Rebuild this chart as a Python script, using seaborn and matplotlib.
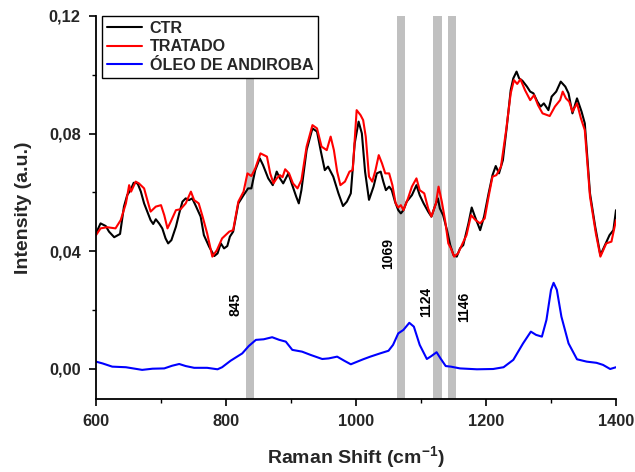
import matplotlib
matplotlib.use("Agg")
import matplotlib.pyplot as plt
from matplotlib.ticker import FuncFormatter, MultipleLocator
import numpy as np
import pandas as pd
import seaborn as sns

# ---------------- data ----------------
ctr_x = [600,607,615,620,628,637,643,648,653,658,664,669,674,679,684,688,692,697,702,707,711,716,723,728,733,738,743,748,753,761,766,774,782,787,792,797,802,806,811,819,827,834,839,845,852,857,865,872,878,883,888,896,901,908,912,916,924,933,940,946,952,957,965,973,980,986,992,998,1004,1009,1014,1020,1027,1032,1038,1042,1046,1051,1055,1060,1065,1069,1073,1078,1086,1093,1098,1104,1111,1116,1122,1126,1129,1134,1140,1145,1150,1155,1160,1165,1173,1178,1183,1191,1197,1204,1210,1215,1220,1226,1232,1238,1242,1247,1251,1256,1263,1268,1273,1279,1284,1289,1296,1301,1308,1315,1322,1327,1333,1340,1347,1352,1360,1368,1376,1383,1390,1396,1400]
ctr_y = [0.0461,0.0495,0.0486,0.0467,0.0448,0.0459,0.0552,0.0591,0.0608,0.0633,0.0631,0.0603,0.0563,0.0535,0.0506,0.0493,0.0509,0.0495,0.0478,0.0444,0.0427,0.0438,0.0484,0.0529,0.0569,0.0580,0.0574,0.0580,0.0557,0.0518,0.0455,0.0416,0.0384,0.0393,0.0427,0.0410,0.0418,0.0450,0.0467,0.0563,0.0591,0.0614,0.0614,0.0676,0.0716,0.0693,0.0648,0.0625,0.0671,0.0648,0.0631,0.0665,0.0631,0.0586,0.0563,0.0608,0.0744,0.0818,0.0807,0.0739,0.0676,0.0688,0.0654,0.0597,0.0554,0.0569,0.0597,0.0767,0.0841,0.0801,0.0670,0.0575,0.0620,0.0665,0.0671,0.0637,0.0608,0.0620,0.0608,0.0569,0.0540,0.0529,0.0540,0.0569,0.0591,0.0625,0.0591,0.0563,0.0535,0.0518,0.0557,0.0580,0.0546,0.0523,0.0472,0.0421,0.0387,0.0382,0.0410,0.0421,0.0495,0.0549,0.0518,0.0472,0.0518,0.0597,0.0659,0.0690,0.0665,0.0710,0.0824,0.0948,0.0988,0.1011,0.0988,0.0980,0.0960,0.0943,0.0937,0.0909,0.0892,0.0903,0.0880,0.0926,0.0943,0.0977,0.0960,0.0937,0.0869,0.0920,0.0875,0.0835,0.0597,0.0484,0.0387,0.0421,0.0455,0.0472,0.0540]

trat_x = [600,607,617,630,638,646,651,654,661,666,674,679,684,692,700,705,710,715,723,730,738,746,751,758,764,771,779,786,794,805,811,819,827,833,839,845,853,863,868,873,878,883,887,891,897,903,910,916,924,933,940,947,955,961,966,971,976,983,990,995,1001,1007,1011,1015,1020,1025,1030,1035,1040,1045,1051,1056,1061,1065,1069,1073,1080,1086,1093,1098,1105,1111,1116,1123,1127,1132,1137,1142,1146,1151,1157,1164,1170,1177,1184,1191,1198,1204,1210,1216,1223,1231,1238,1243,1248,1253,1260,1268,1274,1280,1287,1298,1306,1314,1318,1323,1328,1333,1340,1346,1352,1360,1369,1376,1385,1393,1400]
trat_y = [0.0455,0.0478,0.0482,0.0478,0.0506,0.0563,0.0625,0.0603,0.0637,0.0631,0.0614,0.0574,0.0535,0.0552,0.0557,0.0523,0.0478,0.0501,0.0540,0.0543,0.0563,0.0603,0.0574,0.0563,0.0518,0.0461,0.0382,0.0404,0.0444,0.0467,0.0472,0.0569,0.0603,0.0665,0.0656,0.0682,0.0733,0.0722,0.0665,0.0631,0.0648,0.0659,0.0652,0.0679,0.0665,0.0631,0.0614,0.0642,0.0756,0.0829,0.0818,0.0756,0.0744,0.0790,0.0744,0.0671,0.0625,0.0637,0.0671,0.0676,0.0880,0.0863,0.0846,0.0790,0.0654,0.0637,0.0676,0.0727,0.0699,0.0665,0.0665,0.0625,0.0563,0.0549,0.0557,0.0540,0.0580,0.0620,0.0648,0.0608,0.0597,0.0546,0.0518,0.0563,0.0620,0.0569,0.0506,0.0427,0.0410,0.0382,0.0393,0.0427,0.0455,0.0523,0.0506,0.0495,0.0512,0.0586,0.0654,0.0659,0.0688,0.0812,0.0937,0.0982,0.0969,0.0985,0.0948,0.0914,0.0931,0.0897,0.0869,0.0860,0.0892,0.0914,0.0943,0.0920,0.0909,0.0875,0.0903,0.0852,0.0812,0.0586,0.0461,0.0382,0.0427,0.0433,0.0506]

oleo_x = [600,610,625,646,671,687,705,717,728,738,751,771,787,794,807,825,835,846,858,871,882,892,902,917,930,948,958,971,982,992,1002,1011,1022,1037,1050,1057,1065,1073,1082,1089,1098,1109,1116,1124,1130,1138,1146,1160,1186,1211,1227,1242,1257,1269,1277,1286,1293,1300,1304,1309,1316,1327,1340,1355,1370,1380,1391,1400]
oleo_y = [0.0025,0.0019,0.0008,0.0006,-0.0003,0.0001,0.0002,0.0011,0.0017,0.0010,0.0004,0.0004,-0.0001,0.0006,0.0028,0.0053,0.0078,0.0099,0.0101,0.0108,0.0099,0.0093,0.0065,0.0059,0.0048,0.0034,0.0036,0.0042,0.0028,0.0016,0.0025,0.0033,0.0042,0.0053,0.0062,0.0082,0.0121,0.0133,0.0157,0.0144,0.0082,0.0034,0.0044,0.0057,0.0036,0.0010,0.0008,0.0002,-0.0001,0.0000,0.0006,0.0031,0.0087,0.0127,0.0116,0.0110,0.0167,0.0269,0.0293,0.0269,0.0178,0.0087,0.0033,0.0025,0.0021,0.0014,0.0000,0.0006]

series_names = ["CTR", "TRATADO", "ÓLEO DE ANDIROBA"]
series_colors = ["#000000", "#ff0000", "#0000ff"]

band_lo = [830, 1063, 1119, 1141]
band_hi = [843, 1076, 1132, 1154]
band_labels = ["845", "1069", "1124", "1146"]
band_label_x = [815, 1049, 1108, 1166]
band_label_y = [0.0218, 0.0394, 0.0228, 0.0211]

x_ticks = [600, 800, 1000, 1200, 1400]
y_ticks = [0.00, 0.04, 0.08, 0.12]

# ---------------- style ----------------
sns.set_theme(style="white")
plt.rcParams["font.family"] = ["Liberation Sans", "DejaVu Sans"]
plt.rcParams["font.weight"] = "bold"
plt.rcParams["mathtext.fontset"] = "custom"
plt.rcParams["mathtext.rm"] = "Liberation Sans:bold"
plt.rcParams["mathtext.bf"] = "Liberation Sans:bold"
plt.rcParams["mathtext.it"] = "Liberation Sans:bold"

df = pd.concat([
    pd.DataFrame({"x": ctr_x, "y": ctr_y, "s": series_names[0]}),
    pd.DataFrame({"x": trat_x, "y": trat_y, "s": series_names[1]}),
    pd.DataFrame({"x": oleo_x, "y": oleo_y, "s": series_names[2]}),
], ignore_index=True)

fig = plt.figure(figsize=(6.35, 4.72), dpi=100)
ax = fig.add_axes([96/635, 1-399/472, 520/635, 383/472])

for lo, hi in zip(band_lo, band_hi):
    ax.axvspan(lo, hi, color="#c0c0c0", lw=0, zorder=0)

sns.lineplot(data=df, x="x", y="y", hue="s", hue_order=series_names,
             palette=dict(zip(series_names, series_colors)),
             estimator=None, linewidth=1.5, ax=ax, zorder=2)
for ln in ax.get_lines():
    ln.set_solid_joinstyle("round")
    ln.set_solid_capstyle("round")

for lab, lx, ly in zip(band_labels, band_label_x, band_label_y):
    ax.text(lx, ly, lab, rotation=90, ha="center", va="center",
            fontsize=10, fontweight="bold", color="black")

ax.set_xlim(600, 1400)
ax.set_ylim(-0.0102, 0.12)
ax.set_xticks(x_ticks)
ax.set_yticks(y_ticks)
ax.xaxis.set_minor_locator(MultipleLocator(100))
ax.yaxis.set_minor_locator(MultipleLocator(0.02))
ax.yaxis.set_major_formatter(FuncFormatter(lambda v, p: f"{v:.2f}".replace(".", ",")))

for side in ["top", "right"]:
    ax.spines[side].set_visible(False)
for side in ["left", "bottom"]:
    ax.spines[side].set_color("black")
    ax.spines[side].set_linewidth(1.3)

ax.tick_params(axis="both", which="major", direction="out", length=5, width=1.2,
               color="black", labelsize=11.8, pad=6, bottom=True, left=True)
ax.tick_params(axis="both", which="minor", direction="out", length=3, width=1.0,
               color="black", bottom=True, left=True)
for t in ax.get_xticklabels() + ax.get_yticklabels():
    t.set_fontweight("bold")

ax.set_xlabel(r"Raman Shift (cm$^{-1}$)", fontsize=14, fontweight="bold", labelpad=11)
ax.set_ylabel("Intensity (a.u.)", fontsize=14, fontweight="bold", labelpad=12)

leg = ax.legend(loc="upper left", bbox_to_anchor=(0.0115, 1.0), borderaxespad=0,
                frameon=True, fancybox=False, framealpha=1, edgecolor="black",
                prop={"size": 11.6, "weight": "bold"}, handlelength=2.2,
                handletextpad=0.45, labelspacing=0.22, borderpad=0.3, title=None)
leg.get_frame().set_linewidth(1.0)
for line in leg.get_lines():
    line.set_linewidth(1.5)

fig.savefig("out.png", dpi=100)
